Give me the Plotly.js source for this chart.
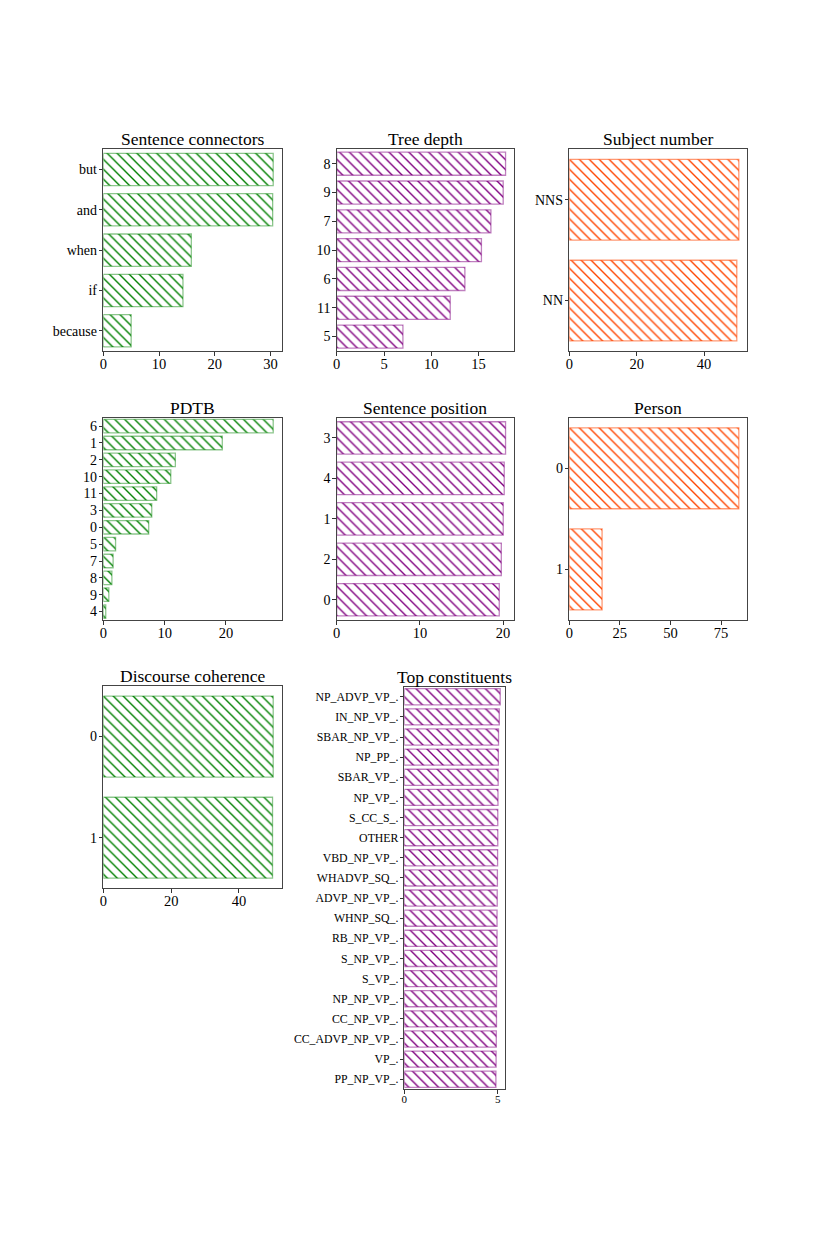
<!DOCTYPE html>
<html>
<head>
<meta charset="utf-8">
<script src="https://cdn.plot.ly/plotly-3.0.1.min.js"></script>
<style>
  html, body { margin: 0; padding: 0; background: #fff; }
  #chart { width: 830px; height: 1246px; }
</style>
</head>
<body>
<div id="chart"></div>
<script>
// values, listed top to bottom as drawn
var connectorLabels = ['but', 'and', 'when', 'if', 'because'];
var connectorValues = [30.5, 30.4, 15.8, 14.3, 5.0];

var depthLabels = ['8', '9', '7', '10', '6', '11', '5'];
var depthValues = [17.85, 17.6, 16.3, 15.3, 13.55, 12.0, 7.0];

var numberLabels = ['NNS', 'NN'];
var numberValues = [50.3, 49.7];

var pdtbLabels = ['6', '1', '2', '10', '11', '3', '0', '5', '7', '8', '9', '4'];
var pdtbValues = [27.7, 19.4, 11.75, 11.0, 8.7, 7.9, 7.4, 2.0, 1.6, 1.4, 0.9, 0.4];

var positionLabels = ['3', '4', '1', '2', '0'];
var positionValues = [20.3, 20.14, 20.02, 19.79, 19.54];

var personLabels = ['0', '1'];
var personValues = [83.8, 16.2];

var coherenceLabels = ['0', '1'];
var coherenceValues = [50.1, 49.9];

var constLabels = ['NP_ADVP_VP_.', 'IN_NP_VP_.', 'SBAR_NP_VP_.', 'NP_PP_.', 'SBAR_VP_.',
    'NP_VP_.', 'S_CC_S_.', 'OTHER', 'VBD_NP_VP_.', 'WHADVP_SQ_.', 'ADVP_NP_VP_.',
    'WHNP_SQ_.', 'RB_NP_VP_.', 'S_NP_VP_.', 'S_VP_.', 'NP_NP_VP_.', 'CC_NP_VP_.',
    'CC_ADVP_NP_VP_.', 'VP_.', 'PP_NP_VP_.'];
var constValues = [5.13, 5.08, 5.04, 5.03, 5.02, 5.01, 5.0, 5.0, 4.99, 4.98, 4.97,
    4.96, 4.96, 4.95, 4.94, 4.93, 4.93, 4.92, 4.91, 4.9];

var GREEN = '#008000', PURPLE = '#800080', ORANGE = '#ff4500';
var EDGE = { '#008000': 'rgba(0,128,0,0.45)', '#800080': 'rgba(128,0,128,0.5)', '#ff4500': 'rgba(255,69,0,0.55)' };

var W = 830, H = 1246;
var FONT = 'Liberation Serif, Times New Roman, serif';

// panels: [title, labels, values, colour, x px range, y px range, dtick, y tick size, x tick size]
var panels = [
    ['Sentence connectors', connectorLabels, connectorValues, GREEN, [103.3, 281.7], [149.3, 351], 10, 14, 14.5],
    ['Tree depth', depthLabels, depthValues, PURPLE, [336.7, 514], [149.3, 351], 5, 14, 14.5],
    ['Subject number', numberLabels, numberValues, ORANGE, [569.3, 747.3], [149.3, 351], 20, 14, 14.5],
    ['PDTB', pdtbLabels, pdtbValues, GREEN, [103.3, 281.7], [417.7, 620], 10, 14, 14.5],
    ['Sentence position', positionLabels, positionValues, PURPLE, [336.7, 514], [417.7, 620], 10, 14, 14.5],
    ['Person', personLabels, personValues, ORANGE, [569.3, 747.3], [417.7, 620], 25, 14, 14.5],
    ['Discourse coherence', coherenceLabels, coherenceValues, GREEN, [103.3, 281.7], [686, 888.3], 20, 14, 14.5],
    ['Top constituents', constLabels, constValues, PURPLE, [404.3, 505], [686.7, 1089.3], 5, 11.8, 11]
];

var data = [];
var layout = {
    width: W,
    height: H,
    margin: { l: 0, r: 0, t: 0, b: 0 },
    paper_bgcolor: 'white',
    plot_bgcolor: 'white',
    showlegend: false,
    bargap: 0.2,
    font: { family: FONT, color: 'black', size: 14 },
    annotations: []
};

panels.forEach(function (p, i) {
    var n = p[1].length;
    var sfx = i === 0 ? '' : String(i + 1);
    data.push({
        type: 'bar',
        orientation: 'h',
        x: p[2],
        y: p[1],
        xaxis: 'x' + sfx,
        yaxis: 'y' + sfx,
        marker: {
            color: 'white',
            line: { color: EDGE[p[3]], width: 1.3 },
            pattern: { shape: '\\', fgcolor: p[3], fgopacity: 1, bgcolor: 'white', size: 7, solidity: 0.2 }
        },
        hoverinfo: 'x+y'
    });
    layout['xaxis' + sfx] = {
        domain: [p[4][0] / W, p[4][1] / W],
        anchor: 'y' + sfx,
        range: [0, Math.max.apply(null, p[2]) * 1.05],
        dtick: p[6],
        tick0: 0,
        ticks: 'outside',
        ticklen: 3.5,
        tickwidth: 1,
        tickcolor: '#333',
        ticklabelstandoff: -4,
        showline: true,
        mirror: true,
        linecolor: '#444',
        linewidth: 1,
        showgrid: false,
        zeroline: false,
        tickfont: { family: FONT, size: p[8], color: 'black' }
    };
    layout['yaxis' + sfx] = {
        domain: [1 - p[5][1] / H, 1 - p[5][0] / H],
        anchor: 'x' + sfx,
        type: 'category',
        range: [n - 0.5, -0.5],
        tickmode: 'linear',
        dtick: 1,
        ticks: 'outside',
        ticklen: 3.5,
        tickwidth: 1,
        tickcolor: '#333',
        ticklabelstandoff: -1,
        showline: true,
        mirror: true,
        linecolor: '#444',
        linewidth: 1,
        showgrid: false,
        zeroline: false,
        tickfont: { family: FONT, size: p[7], color: 'black' }
    };
    layout.annotations.push({
        text: p[0],
        xref: 'paper',
        yref: 'paper',
        x: (p[4][0] + p[4][1]) / 2 / W,
        y: 1 - (p[5][0] + 2) / H,
        xanchor: 'center',
        yanchor: 'bottom',
        showarrow: false,
        font: { family: FONT, size: 17.5, color: 'black' }
    });
});

Plotly.newPlot('chart', data, layout, { staticPlot: true });
</script>
</body>
</html>
